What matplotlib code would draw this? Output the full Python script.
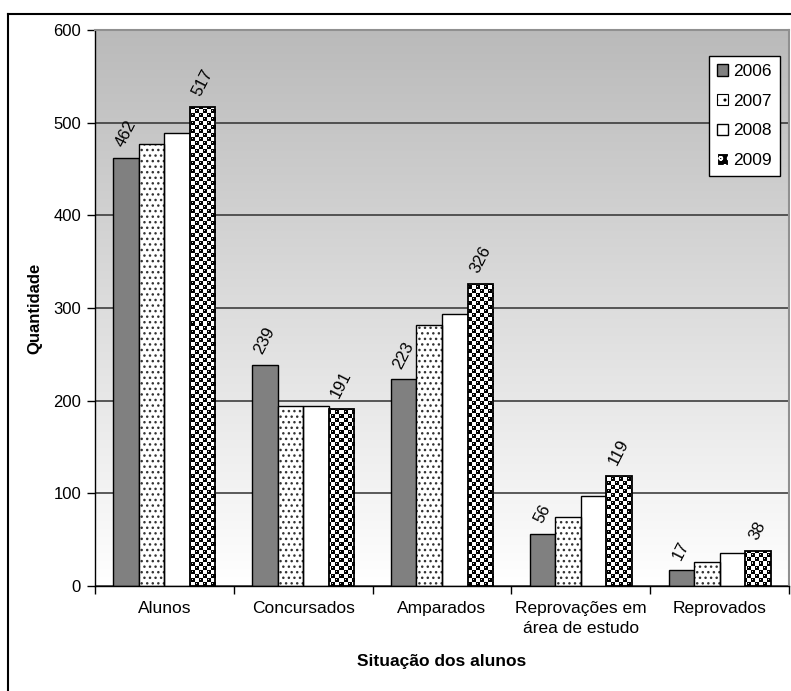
import numpy as np
import matplotlib
matplotlib.use("Agg")
import matplotlib.pyplot as plt
from matplotlib.lines import Line2D

plt.rcParams['font.family'] = ['Liberation Sans', 'DejaVu Sans']
plt.rcParams['hatch.linewidth'] = 1.0

categories = ["Alunos", "Concursados", "Amparados", "Reprovações em\nárea de estudo", "Reprovados"]
years = ["2006", "2007", "2008", "2009"]
v2006 = [462, 239, 223, 56, 17]
v2007 = [477, 194, 282, 75, 26]
v2008 = [489, 194, 294, 97, 36]
v2009 = [517, 191, 326, 119, 38]
series = [v2006, v2007, v2008, v2009]
labelled = {"2006": True, "2007": False, "2008": False, "2009": True}

W, H = 791, 691
AX_L, AX_T, AX_W, AX_H = 95, 30, 694, 556
fig = plt.figure(figsize=(W/100, H/100), dpi=100)
ax = fig.add_axes([AX_L/W, 1-(AX_T+AX_H)/H, AX_W/W, AX_H/H])

n = len(categories)
x = np.arange(n)
w = 0.184
xlim = (-0.5, n-0.5)
ax.set_xlim(*xlim)

# gradient background (gray at top to white at bottom)
grad = np.linspace(0, 1, 256).reshape(-1, 1)
top = np.array([0.73, 0.73, 0.73]); bot = np.array([1.0, 1.0, 1.0])
img = top[None, None, :]*(1-grad[:, :, None]) + bot[None, None, :]*grad[:, :, None]
ax.imshow(img, extent=(xlim[0], xlim[1], 0, 600), aspect='auto', zorder=0,
          interpolation='bilinear', origin='upper')

# checker-ball texture for the 2009 series, one texel per screen pixel
ty, tx = np.mgrid[0:AX_H, 0:AX_W]
my = ty % 8
mx = tx % 8
tex = np.zeros((AX_H, AX_W))
checker = (((my // 4) + (mx // 4)) % 2 == 0)
tex[checker] = 1.0
for (bx, by) in [(5.5, 1.5), (1.5, 5.5)]:
    for ox in (-8, 0, 8):
        for oy in (-8, 0, 8):
            d2 = (mx - bx - ox)**2 + (my - by - oy)**2
            tex[d2 < 6.5] = 0.0
for (bx, by) in [(5.5, 1.5), (1.5, 5.5)]:
    h2 = (mx - (bx - 0.8))**2 + (my - (by - 0.8))**2
    tex[h2 < 0.5] = 0.85
tex_rgb = np.stack([tex]*3, axis=-1)

ax.set_ylim(0, 600)
ax.set_yticks(np.arange(0, 601, 100))
ax.yaxis.grid(True, color='#303030', linewidth=1.1, zorder=1)
ax.set_axisbelow(True)

handles = []
for j, (yr, vals) in enumerate(zip(years, series)):
    pos = x + (j-1.5)*w
    if yr == "2006":
        b = ax.bar(pos, vals, w, color='#808080', edgecolor='black', linewidth=1.0, zorder=2)
        handles.append(b)
    elif yr == "2007":
        ax.bar(pos, vals, w, color='white', edgecolor='#333333', hatch='...', linewidth=0, zorder=2)
        ax.bar(pos, vals, w, fill=False, edgecolor='black', linewidth=1.0, zorder=3)
        handles.append(plt.Rectangle((0, 0), 1, 1, facecolor='white', edgecolor='black', hatch='..', linewidth=0.8))
    elif yr == "2008":
        b = ax.bar(pos, vals, w, color='white', edgecolor='black', linewidth=1.0, zorder=2)
        handles.append(b)
    else:
        bars = ax.bar(pos, vals, w, color='black', linewidth=0, zorder=2)
        for rect in bars:
            im = ax.imshow(tex_rgb, extent=(xlim[0], xlim[1], 0, 600), aspect='auto',
                           zorder=2.5, interpolation='nearest', origin='upper')
            im.set_clip_path(rect)
        ax.bar(pos, vals, w, fill=False, edgecolor='black', linewidth=1.3, zorder=3)
        handles.append(plt.Rectangle((0, 0), 1, 1, facecolor='black', edgecolor='white', hatch='oo', linewidth=0.8))
    if labelled[yr]:
        for p, v in zip(pos, vals):
            ax.annotate(str(v), (p, v), xytext=(0, 6), textcoords='offset points',
                        ha='center', va='bottom', rotation=63, fontsize=12, zorder=5)

ax.set_xlim(*xlim)
ax.set_ylim(0, 600)

# axes styling
for s in ['top', 'right']:
    ax.spines[s].set_color('#909090')
    ax.spines[s].set_linewidth(1.5)
ax.spines['left'].set_color('black')
ax.spines['bottom'].set_color('black')
ax.spines['left'].set_linewidth(1.0)
ax.spines['bottom'].set_linewidth(1.0)

ax.set_xticks(x)
ax.set_xticklabels(categories, fontsize=12.5, linespacing=1.4)
ax.tick_params(axis='x', which='major', length=0, pad=11)
ax.set_xticks(np.arange(-0.5, n, 1.0), minor=True)
ax.tick_params(axis='x', which='minor', length=6, direction='out', width=1)
ax.tick_params(axis='y', length=6, direction='out', width=1, labelsize=12, pad=4)

ax.set_ylabel("Quantidade", fontsize=12, fontweight='bold', labelpad=8)
ax.set_xlabel("Situação dos alunos", fontsize=12.5, fontweight='bold', labelpad=13)

leg = ax.legend(handles, years, loc='upper right', bbox_to_anchor=(0.987, 0.953),
                fontsize=12.5, frameon=True, fancybox=False, edgecolor='black',
                handlelength=0.65, handleheight=0.65, handletextpad=0.3,
                labelspacing=0.85, borderpad=0.45, borderaxespad=0)
leg.get_frame().set_linewidth(1.0)
leg.get_frame().set_facecolor('white')
leg.get_frame().set_alpha(1)
leg.set_zorder(10)

# outer chart border (partially cropped)
fig.add_artist(Line2D([8/W, 1.0], [1-14/H, 1-14/H], color='black', linewidth=1.5, transform=fig.transFigure))
fig.add_artist(Line2D([8/W, 8/W], [0.0, 1-14/H], color='black', linewidth=1.5, transform=fig.transFigure))

fig.savefig("out.png", dpi=100)
